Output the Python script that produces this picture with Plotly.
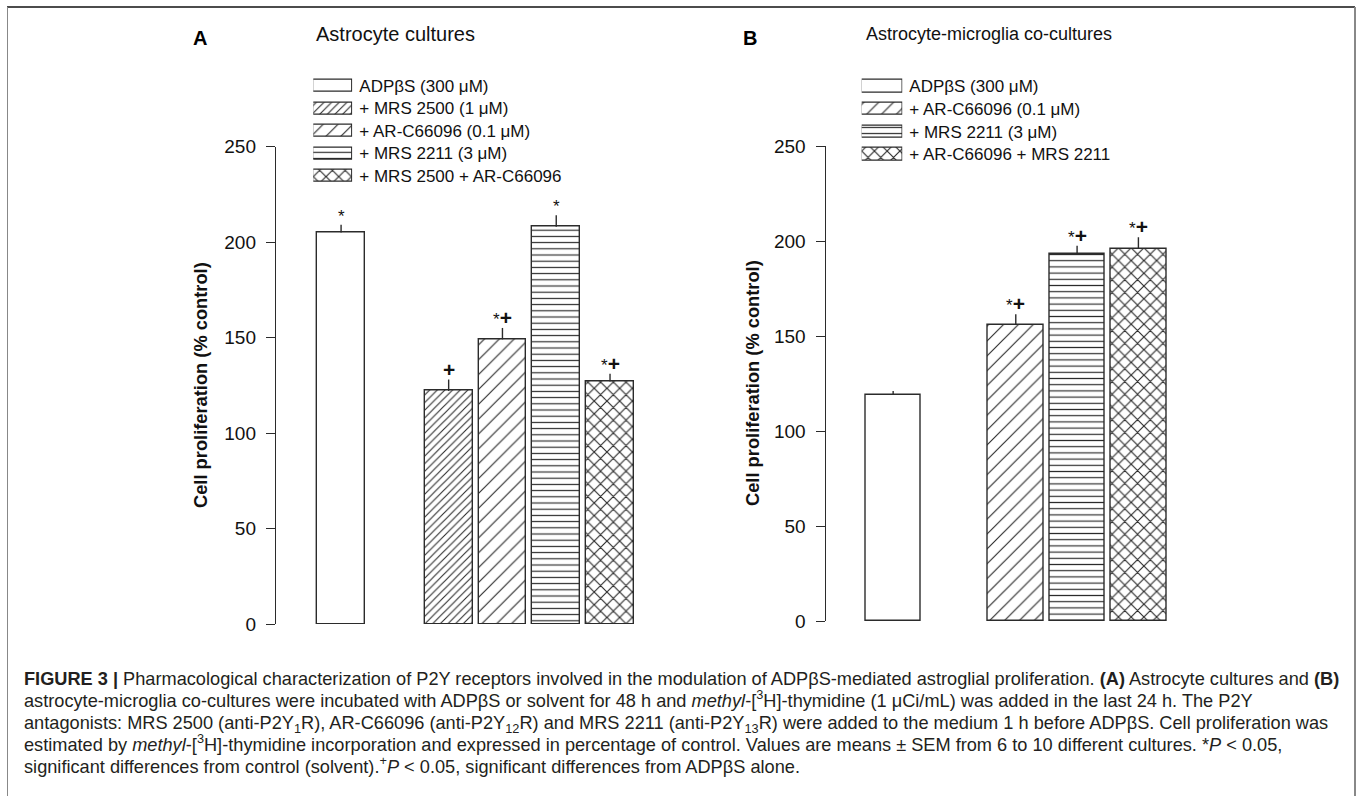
import plotly.graph_objects as go

# ---- data -------------------------------------------------------------
labels_a = ["ADPβS (300 μM)", "+ MRS 2500 (1 μM)", "+ AR-C66096 (0.1 μM)",
            "+ MRS 2211 (3 μM)", "+ MRS 2500 + AR-C66096"]
values_a = [205, 122, 149, 208, 127]
sem_a = [4, 6, 6, 6, 4]
sig_a = ["*", "+", "*+", "*", "*+"]

labels_b = ["ADPβS (300 μM)", "+ AR-C66096 (0.1 μM)", "+ MRS 2211 (3 μM)",
            "+ AR-C66096 + MRS 2211"]
values_b = [119, 156, 193, 196]
sem_b = [2, 5.5, 4.5, 6]
sig_b = ["", "*+", "*+", "*+"]

y_ticks = [0, 50, 100, 150, 200, 250]

# pattern styles keyed by treatment
STYLE = {
    "ADPβS (300 μM)": dict(shape="", size=8, solidity=0.2),
    "+ MRS 2500 (1 μM)": dict(shape="/", size=5.4, solidity=0.2),
    "+ AR-C66096 (0.1 μM)": dict(shape="/", size=10.5, solidity=0.11),
    "+ MRS 2211 (3 μM)": dict(shape="-", size=6.2, solidity=0.19),
    "+ MRS 2500 + AR-C66096": dict(shape="x", size=9, solidity=0.24),
    "+ AR-C66096 + MRS 2211": dict(shape="x", size=9, solidity=0.24),
}

W, H = 1358, 796
INK = "#2b2b2b"
FONT = "Liberation Sans, Arial, Helvetica, sans-serif"


def px(x):
    return x / W


def py(y):
    return 1 - y / H


def positions(n):
    # control bar stands alone, antagonist bars follow after one empty slot
    return [0] + [i + 1 for i in range(1, n)]


def patt(label):
    s = STYLE[label]
    return dict(shape=s["shape"], size=s["size"], solidity=s["solidity"],
                fgcolor=INK, bgcolor="white", fillmode="replace")


fig = go.Figure()


def add_panel(labels, values, sem, sig, xa, ya, width):
    xs = positions(len(values))
    for lab, x, v, e in zip(labels, xs, values, sem):
        fig.add_trace(go.Bar(
            x=[x], y=[v], width=width, xaxis=xa, yaxis=ya,
            marker=dict(color="white", pattern=patt(lab),
                        line=dict(color=INK, width=1.4)),
            error_y=dict(type="data", array=[e], arrayminus=[0], symmetric=False,
                         width=0, thickness=1.4, color=INK),
            showlegend=False, hoverinfo="skip"))
    ref = xa.replace("axis", "")
    yref = ya.replace("axis", "")
    for x, v, e, s in zip(xs, values, sem, sig):
        if not s:
            continue
        txt = s.replace("*", "<span style='font-size:17px'>*</span>")
        txt = txt.replace("+", "<b>+</b>")
        fig.add_annotation(x=x, y=v + e, xref=ref, yref=yref, text=txt,
                           showarrow=False, yanchor="bottom", yshift=-3,
                           font=dict(family=FONT, size=21, color="#111"))


def add_key(labels, xa, ya):
    for i, lab in enumerate(labels):
        fig.add_trace(go.Bar(
            y=[i], x=[1], orientation="h", width=0.54, xaxis=xa, yaxis=ya,
            marker=dict(color="white", pattern=patt(lab),
                        line=dict(color=INK, width=1.2)),
            showlegend=False, hoverinfo="skip"))


add_panel(labels_a, values_a, sem_a, sig_a, "x", "y", 0.89)
add_panel(labels_b, values_b, sem_b, sig_b, "x2", "y2", 0.91)
add_key(labels_a, "x3", "y3")
add_key(labels_b, "x4", "y4")

yax = dict(range=[0, 250], tickvals=y_ticks, ticks="outside", ticklen=9,
           tickwidth=1.4, tickcolor=INK, showline=True, linecolor=INK,
           linewidth=1.4, showgrid=False, zeroline=False, automargin=False,
           tickfont=dict(family=FONT, size=19, color="#111"),
           ticklabelstandoff=6)
xax = dict(showline=False, showticklabels=False, ticks="", showgrid=False,
           zeroline=False, automargin=False)

key_x = dict(range=[0, 1], visible=False, fixedrange=True, automargin=False)
key_y = dict(showgrid=False, zeroline=False, showline=False, ticks="",
             side="right", ticklabelstandoff=6, automargin=False,
             tickfont=dict(family=FONT, size=17, color="#111"))

fig.update_layout(
    width=W, height=H, margin=dict(l=0, r=0, t=0, b=0, pad=0, autoexpand=False),
    paper_bgcolor="white", plot_bgcolor="rgba(0,0,0,0)",
    bargap=0, showlegend=False,
    xaxis=dict(domain=[px(276), px(642.3)], range=[-1.21, 5.6], anchor="y", **xax),
    yaxis=dict(domain=[py(624), py(146.5)], anchor="x", **yax),
    xaxis2=dict(domain=[px(825.7), px(1175.2)], range=[-1.1, 4.6], anchor="y2", **xax),
    yaxis2=dict(domain=[py(621), py(146)], anchor="x2", **yax),
    xaxis3=dict(domain=[px(313.3), px(352.3)], anchor="y3", **key_x),
    yaxis3=dict(domain=[py(187.2), py(74.8)], anchor="x3",
                range=[len(labels_a) - 0.5, -0.5],
                tickvals=list(range(len(labels_a))), ticktext=labels_a, **key_y),
    xaxis4=dict(domain=[px(861.7), px(902.3)], anchor="y4", **key_x),
    yaxis4=dict(domain=[py(165.7), py(74.7)], anchor="x4",
                range=[len(labels_b) - 0.5, -0.5],
                tickvals=list(range(len(labels_b))), ticktext=labels_b, **key_y),
)

# y-axis titles
for xc, yc in [(200, 385), (752, 383)]:
    fig.add_annotation(x=px(xc), y=py(yc), xref="paper", yref="paper",
                       text="<b>Cell proliferation (% control)</b>", textangle=-90,
                       showarrow=False, xanchor="center", yanchor="middle",
                       font=dict(family=FONT, size=18.3, color="#111"))

# panel letters and titles
for x, txt in [(191, "A"), (741, "B")]:
    fig.add_annotation(x=px(x), y=py(38), xref="paper", yref="paper",
                       text=f"<b>{txt}</b>", showarrow=False, xanchor="left",
                       yanchor="middle", font=dict(family=FONT, size=20, color="#000"))
for x, txt, size in [(395.5, "Astrocyte cultures", 20),
                     (988.5, "Astrocyte-microglia co-cultures", 18)]:
    fig.add_annotation(x=px(x), y=py(34), xref="paper", yref="paper", text=txt,
                       showarrow=False, xanchor="center", yanchor="middle",
                       font=dict(family=FONT, size=size, color="#111"))

# caption
caption = [
    "<b>FIGURE 3 |</b> Pharmacological characterization of P2Y receptors involved in the "
    "modulation of ADPβS-mediated astroglial proliferation. <b>(A)</b> Astrocyte cultures and <b>(B)</b>",
    "astrocyte-microglia co-cultures were incubated with ADPβS or solvent for 48 h and "
    "<i>methyl</i>-[<sup>3</sup>H]-thymidine (1 μCi/mL) was added in the last 24 h. The P2Y",
    "antagonists: MRS 2500 (anti-P2Y<sub>1</sub>R), AR-C66096 (anti-P2Y<sub>12</sub>R) and "
    "MRS 2211 (anti-P2Y<sub>13</sub>R) were added to the medium 1 h before ADPβS. Cell proliferation was",
    "estimated by <i>methyl</i>-[<sup>3</sup>H]-thymidine incorporation and expressed in percentage "
    "of control. Values are means ± SEM from 6 to 10 different cultures. *<i>P</i> &lt; 0.05,",
    "significant differences from control (solvent).<sup>+</sup><i>P</i> &lt; 0.05, "
    "significant differences from ADPβS alone.",
]
for i, line in enumerate(caption):
    # superscripts/subscripts enlarge the text box; offset so baselines stay even
    shift = (1.5 if "<sup>" in line else 0) - (1.5 if "<sub>" in line else 0)
    fig.add_annotation(x=px(22), y=py(679 + 21.9 * i), xref="paper", yref="paper",
                       text=line, showarrow=False, xanchor="left", yanchor="middle",
                       align="left", yshift=shift,
                       font=dict(family=FONT, size=18.2, color="#231f20"))

# frame around the figure
frame = dict(xref="paper", yref="paper", type="line")
fig.add_shape(x0=px(7), x1=px(1355), y0=py(7), y1=py(7), line=dict(color="#111", width=1.5), **frame)
fig.add_shape(x0=px(7.5), x1=px(7.5), y0=py(7), y1=0, line=dict(color="#888", width=1), **frame)
fig.add_shape(x0=px(1355), x1=px(1355), y0=py(7), y1=0, line=dict(color="#888", width=2), **frame)

fig.write_html("out.html")
